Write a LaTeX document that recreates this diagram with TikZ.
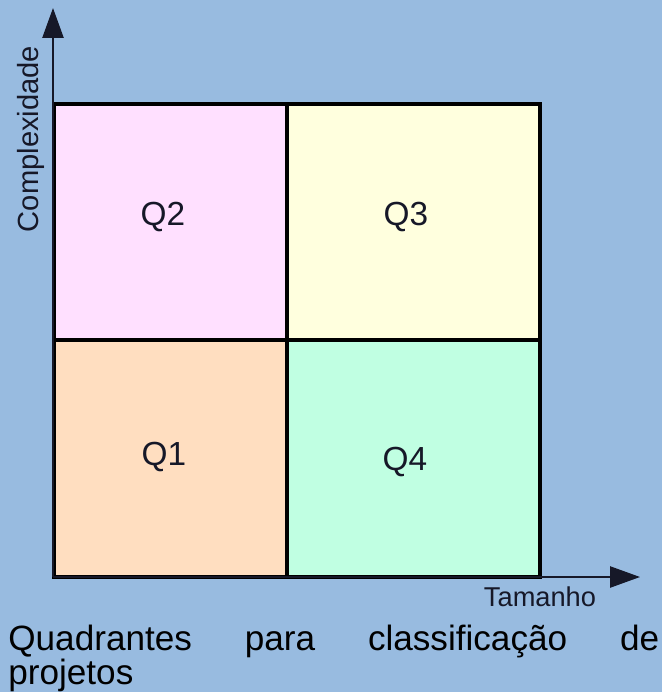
\documentclass[tikz,border=0pt]{standalone}
\usepackage{fontspec}
\setmainfont{Liberation Sans}
\definecolor{skyback}{RGB}{152, 187, 224}
\definecolor{q1peach}{RGB}{255, 222, 192}
\definecolor{q2pink}{RGB}{255, 224, 255}
\definecolor{q3cream}{RGB}{255, 255, 222}
\definecolor{q4mint}{RGB}{192, 255, 226}
\definecolor{inkdark}{RGB}{22, 24, 40}
\usetikzlibrary{arrows.meta}

\begin{document}
\begin{tikzpicture}[x=0.02cm, y=-0.02cm]
  \useasboundingbox (0, 0) rectangle (662, 692);
  \fill[skyback] (0, 0) rectangle (662, 692);

  % Quadrants
  \fill[q2pink] (54, 104) rectangle (287, 340);
  \fill[q3cream] (287, 104) rectangle (540, 340);
  \fill[q1peach] (54, 340) rectangle (287, 577);
  \fill[q4mint] (287, 340) rectangle (540, 577);
  \draw[line width=2.3pt] (54, 104) rectangle (540, 577);
  \draw[line width=2.3pt] (287, 104) -- (287, 577);
  \draw[line width=2.3pt] (54, 340) -- (540, 340);

  \node[font=\fontsize{19}{22}\selectfont, text=inkdark] (q2) at (163, 217) {Q2};
  \node[font=\fontsize{19}{22}\selectfont, text=inkdark] (q3) at (406, 217) {Q3};
  \node[font=\fontsize{19}{22}\selectfont, text=inkdark] (q1) at (164, 457) {Q1};
  \node[font=\fontsize{19}{22}\selectfont, text=inkdark] (q4) at (405, 462) {Q4};

  % Axes
  \coordinate (origin) at (53, 577);
  \coordinate (ytip) at (53, 8);
  \coordinate (xtip) at (640, 577);
  \draw[-{Triangle[length=17pt, width=12pt]}, line width=1.1pt, draw=inkdark, fill=black] (origin) -- (ytip);
  \draw[-{Triangle[length=17pt, width=12pt]}, line width=1.1pt, draw=inkdark, fill=black] (origin) -- (xtip);

  \node[rotate=90, font=\fontsize{16.6}{19}\selectfont, text=inkdark] (ylabel) at (31, 139) {Complexidade};
  \node[font=\fontsize{15.5}{18}\selectfont, text=inkdark] (xlabel) at (540, 597) {Tamanho};

  % Caption
  \node[anchor=base west, inner sep=0pt, text width=13.02cm, align=left, font=\fontsize{20}{18.7}\selectfont, text=black] (caption) at (8, 650) {
    Quadrantes\hfill para\hfill classificação\hfill de\\
    projetos
  };
\end{tikzpicture}
\end{document}
